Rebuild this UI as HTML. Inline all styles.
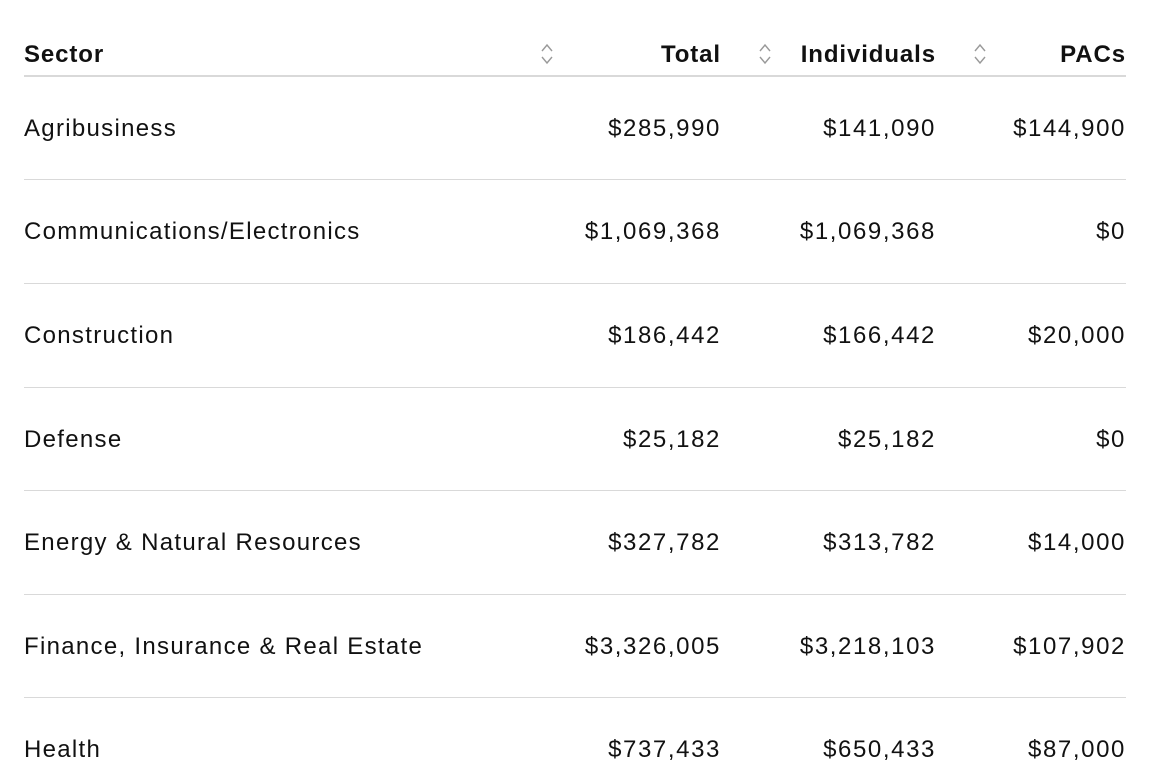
<!DOCTYPE html>
<html><head><style>
body{margin:0;width:1156px;height:784px;background:#fff;font-family:"Liberation Sans",sans-serif;color:#111;overflow:hidden;position:relative}
.t{position:absolute;font-size:24px;line-height:30px;white-space:nowrap;letter-spacing:1.3px;margin-top:1px}
.r{text-align:right;letter-spacing:1.6px}
.h{font-weight:bold;letter-spacing:0.9px}
.line{position:absolute;left:24px;width:1102px;height:1px;background:#d9d9d9}
.ic{position:absolute;width:14px;height:24px}
</style></head><body>
<div class="t h" style="left:24px;top:39px">Sector</div>
<div class="t h r" style="right:435px;top:39px">Total</div>
<div class="t h r" style="right:220px;top:39px">Individuals</div>
<div class="t h r" style="right:30px;top:39px">PACs</div>
<svg class="ic" style="left:540px;top:42px" viewBox="0 0 14 24"><path d="M2 9 L7 3 L12 9 M2 15 L7 21 L12 15" fill="none" stroke="#999" stroke-width="1.4"/></svg>
<svg class="ic" style="left:758px;top:42px" viewBox="0 0 14 24"><path d="M2 9 L7 3 L12 9 M2 15 L7 21 L12 15" fill="none" stroke="#999" stroke-width="1.4"/></svg>
<svg class="ic" style="left:973px;top:42px" viewBox="0 0 14 24"><path d="M2 9 L7 3 L12 9 M2 15 L7 21 L12 15" fill="none" stroke="#999" stroke-width="1.4"/></svg>
<div class="line" style="top:75px;height:2px"></div>

<div class="t" style="left:24px;top:113px">Agribusiness</div>
<div class="t r" style="right:435px;top:113px">$285,990</div>
<div class="t r" style="right:220px;top:113px">$141,090</div>
<div class="t r" style="right:30px;top:113px">$144,900</div>
<div class="line" style="top:179px"></div>

<div class="t" style="left:24px;top:216px">Communications/Electronics</div>
<div class="t r" style="right:435px;top:216px">$1,069,368</div>
<div class="t r" style="right:220px;top:216px">$1,069,368</div>
<div class="t r" style="right:30px;top:216px">$0</div>
<div class="line" style="top:283px"></div>

<div class="t" style="left:24px;top:320px">Construction</div>
<div class="t r" style="right:435px;top:320px">$186,442</div>
<div class="t r" style="right:220px;top:320px">$166,442</div>
<div class="t r" style="right:30px;top:320px">$20,000</div>
<div class="line" style="top:387px"></div>

<div class="t" style="left:24px;top:424px">Defense</div>
<div class="t r" style="right:435px;top:424px">$25,182</div>
<div class="t r" style="right:220px;top:424px">$25,182</div>
<div class="t r" style="right:30px;top:424px">$0</div>
<div class="line" style="top:490px"></div>

<div class="t" style="left:24px;top:527px">Energy &amp; Natural Resources</div>
<div class="t r" style="right:435px;top:527px">$327,782</div>
<div class="t r" style="right:220px;top:527px">$313,782</div>
<div class="t r" style="right:30px;top:527px">$14,000</div>
<div class="line" style="top:594px"></div>

<div class="t" style="left:24px;top:631px">Finance, Insurance &amp; Real Estate</div>
<div class="t r" style="right:435px;top:631px">$3,326,005</div>
<div class="t r" style="right:220px;top:631px">$3,218,103</div>
<div class="t r" style="right:30px;top:631px">$107,902</div>
<div class="line" style="top:697px"></div>

<div class="t" style="left:24px;top:734px">Health</div>
<div class="t r" style="right:435px;top:734px">$737,433</div>
<div class="t r" style="right:220px;top:734px">$650,433</div>
<div class="t r" style="right:30px;top:734px">$87,000</div>
</body></html>
